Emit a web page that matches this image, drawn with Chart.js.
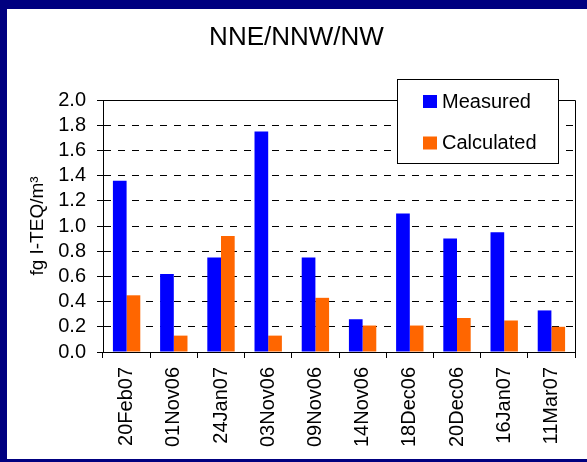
<!DOCTYPE html>
<html><head><meta charset="utf-8">
<script src="https://cdn.jsdelivr.net/npm/chart.js@4.4.1/dist/chart.umd.min.js"></script>
<style>html,body{margin:0;padding:0;background:#fff;overflow:hidden}</style>
</head><body>
<canvas id="c" width="587" height="462"></canvas>
<script>
const categories = ['20Feb07','01Nov06','24Jan07','03Nov06','09Nov06','14Nov06','18Dec06','20Dec06','16Jan07','11Mar07'];
const measured   = [1.36, 0.62, 0.75, 1.75, 0.75, 0.26, 1.10, 0.90, 0.95, 0.33];
const calculated = [0.45, 0.13, 0.92, 0.13, 0.43, 0.21, 0.21, 0.27, 0.25, 0.20];
const seriesNames = ['Measured', 'Calculated'];
const seriesColors = ['#0000FF', '#FF6600'];
const yMin = 0, yMax = 2.0, yStep = 0.2;
const chartTitle = 'NNE/NNW/NW';
const yAxisTitle = 'fg I-TEQ/m\u00B3';
const FONT = "'Liberation Sans', Arial, sans-serif";

const framePlugin = {
  id: 'frame',
  beforeDraw(chart) {
    const ctx = chart.ctx;
    ctx.save();
    ctx.fillStyle = '#000080';
    ctx.fillRect(0, 0, chart.width, chart.height);
    ctx.fillStyle = '#FFFFFF';
    ctx.fillRect(7, 9, chart.width - 7, chart.height - 12);
    ctx.restore();
  },
  afterDatasetsDraw(chart) {
    const a = chart.chartArea, ctx = chart.ctx;
    ctx.save();
    ctx.strokeStyle = '#000';
    ctx.lineWidth = 1;
    ctx.beginPath();
    ctx.moveTo(Math.round(a.left) + 0.5, Math.round(a.top) + 0.5);
    ctx.lineTo(Math.round(a.right) + 0.5, Math.round(a.top) + 0.5);
    ctx.lineTo(Math.round(a.right) + 0.5, Math.round(a.bottom) + 0.5);
    ctx.stroke();
    ctx.restore();
  },
  afterDraw(chart) {
    const ctx = chart.ctx;
    ctx.save();
    ctx.fillStyle = '#000';
    ctx.font = '26px ' + FONT;
    ctx.textAlign = 'center';
    ctx.textBaseline = 'middle';
    ctx.fillText(chartTitle, 296.5, 38);
    ctx.fillStyle = '#fff';
    ctx.fillRect(397.5, 79.5, 161, 84);
    ctx.strokeStyle = '#000';
    ctx.lineWidth = 1;
    ctx.strokeRect(397.5, 79.5, 161, 84);
    ctx.font = '20px ' + FONT;
    ctx.textAlign = 'left';
    chart.data.datasets.forEach((ds, i) => {
      const cy = 101 + i * 41.5;
      ctx.fillStyle = ds.backgroundColor;
      ctx.fillRect(423, cy - 6, 14, 13);
      ctx.fillStyle = '#000';
      ctx.fillText(ds.label, 442, cy + 1);
    });
    ctx.restore();
  }
};

new Chart(document.getElementById('c'), {
  type: 'bar',
  data: {
    labels: categories,
    datasets: [
      { label: seriesNames[0], data: measured, backgroundColor: seriesColors[0] },
      { label: seriesNames[1], data: calculated, backgroundColor: seriesColors[1] }
    ]
  },
  options: {
    responsive: false,
    animation: false,
    devicePixelRatio: 1,
    categoryPercentage: 0.58,
    barPercentage: 1.0,
    layout: { padding: { top: 100, right: 12, bottom: 0, left: 0 } },
    plugins: { legend: { display: false }, title: { display: false }, tooltip: { enabled: false } },
    scales: {
      x: {
        offset: true,
        grid: { offset: true, drawOnChartArea: false, color: '#000', tickColor: '#000', tickLength: 6, lineWidth: 1 },
        border: { color: '#000', width: 1 },
        ticks: { autoSkip: false, minRotation: 90, maxRotation: 90, padding: 9, color: '#000', font: { size: 20, family: FONT } },
        afterFit(s) { s.height = 110; }
      },
      y: {
        min: yMin, max: yMax,
        ticks: { stepSize: yStep, autoSkip: false, padding: 11, color: '#000', font: { size: 20, family: FONT },
                 callback: v => Number(v).toFixed(1) },
        grid: { color: '#000', tickColor: '#000', tickLength: 6, lineWidth: 1, tickBorderDash: [] },
        border: { color: '#000', width: 1, dash: [7, 7] },
        title: { display: true, text: yAxisTitle, color: '#000', font: { size: 19, family: FONT }, padding: { top: 26, bottom: 0 } },
        afterFit(s) { s.width = 103; }
      }
    }
  },
  plugins: [framePlugin]
});
</script>
</body></html>
